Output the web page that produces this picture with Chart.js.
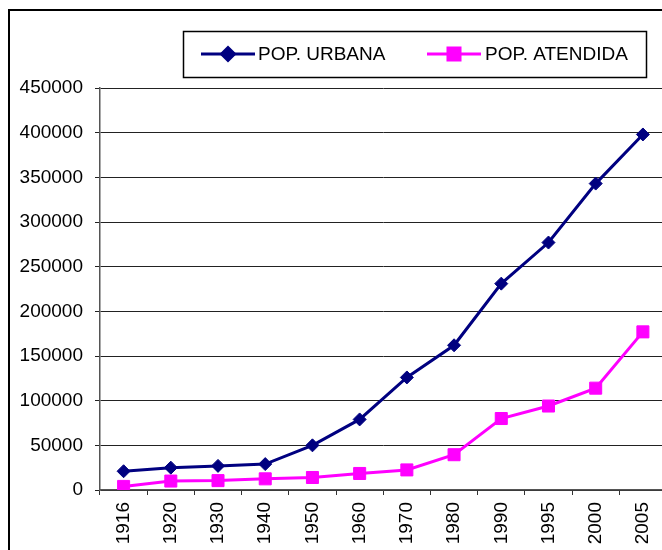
<!DOCTYPE html>
<html>
<head>
<meta charset="utf-8">
<script src="https://cdn.jsdelivr.net/npm/chart.js@4/dist/chart.umd.min.js"></script>
<style>
  html, body { margin: 0; padding: 0; background: #fff; overflow: hidden; }
  #wrap { position: relative; width: 662px; height: 550px; overflow: hidden; }
  #frame { position: absolute; left: 8px; top: 9px; width: 720px; height: 620px; border: 2px solid #000; box-sizing: border-box; }
  canvas { position: absolute; left: 0; top: 0; }
</style>
</head>
<body>
<div id="wrap">
  <div id="frame"></div>
  <canvas id="c" width="676" height="550"></canvas>
</div>
<script>
const categories = ['1916','1920','1930','1940','1950','1960','1970','1980','1990','1995','2000','2005'];
const popUrbana   = [21000, 25000, 27000, 29000, 50000, 79000, 126000, 162000, 231000, 277000, 343000, 398000];
const popAtendida = [4000, 10000, 10500, 12500, 14000, 18500, 22500, 39500, 80000, 94000, 114000, 177000];
const seriesNames = ['POP. URBANA', 'POP. ATENDIDA'];
const yTicks = [0, 50000, 100000, 150000, 200000, 250000, 300000, 350000, 400000, 450000];

const FONT = "'Liberation Sans', Arial, sans-serif";

const legendBox = {
  id: 'legendBox',
  afterDraw(chart) {
    const ctx = chart.ctx;
    ctx.save();
    ctx.strokeStyle = '#000';
    ctx.lineWidth = 1.5;
    ctx.strokeRect(183.5, 31.5, 463, 46);
    const items = [
      { x0: 201, x1: 255, tx: 258 },
      { x0: 427, x1: 481, tx: 485 }
    ];
    const cy = 54;
    chart.data.datasets.forEach((ds, i) => {
      const it = items[i];
      ctx.strokeStyle = ds.borderColor;
      ctx.lineWidth = ds.borderWidth;
      ctx.beginPath();
      ctx.moveTo(it.x0, cy);
      ctx.lineTo(it.x1, cy);
      ctx.stroke();
      Chart.helpers.drawPoint(ctx, {
        pointStyle: ds.pointStyle,
        radius: ds.pointRadius,
        borderWidth: ds.pointBorderWidth,
        rotation: 0
      }, (it.x0 + it.x1) / 2, cy);
      ctx.fillStyle = ds.pointBackgroundColor;
      ctx.strokeStyle = ds.pointBorderColor;
      ctx.lineWidth = ds.pointBorderWidth;
      ctx.fill();
      ctx.stroke();
      ctx.fillStyle = '#000';
      ctx.font = '19px ' + FONT;
      ctx.textBaseline = 'middle';
      ctx.textAlign = 'left';
      ctx.fillText(ds.label, it.tx, cy + 1);
    });
    ctx.restore();
  }
};

new Chart(document.getElementById('c'), {
  type: 'line',
  data: {
    labels: categories,
    datasets: [
      {
        label: seriesNames[0],
        data: popUrbana,
        borderColor: '#000080',
        backgroundColor: '#000080',
        borderWidth: 3,
        pointStyle: 'rectRot',
        pointRadius: 6.5,
        pointBackgroundColor: '#000080',
        pointBorderColor: '#000080',
        pointBorderWidth: 1,
        tension: 0
      },
      {
        label: seriesNames[1],
        data: popAtendida,
        borderColor: '#FF00FF',
        backgroundColor: '#FF00FF',
        borderWidth: 3,
        pointStyle: 'rect',
        pointRadius: 8.5,
        pointBackgroundColor: '#FF00FF',
        pointBorderColor: '#FF00FF',
        pointBorderWidth: 1,
        tension: 0
      }
    ]
  },
  options: {
    responsive: false,
    animation: false,
    layout: { padding: { top: 88, right: 5, left: 0, bottom: 0 } },
    plugins: {
      legend: { display: false },
      tooltip: { enabled: false }
    },
    scales: {
      x: {
        type: 'category',
        offset: true,
        afterFit(s) { s.height = 60; },
        grid: { offset: true, drawOnChartArea: false, drawTicks: true, tickLength: 5, color: '#333', lineWidth: 1 },
        border: { display: true, color: '#555', width: 1.5 },
        ticks: {
          color: '#000',
          font: { family: FONT, size: 19 },
          minRotation: 90,
          maxRotation: 90,
          padding: 7,
          autoSkip: false
        }
      },
      y: {
        min: 0,
        max: 450000,
        afterFit(s) { s.width = 100; },
        afterBuildTicks(s) { s.ticks = yTicks.map(v => ({ value: v })); },
        grid: { color: '#222', lineWidth: 1, drawTicks: true, tickLength: 5 },
        border: { display: true, color: '#555', width: 1.5 },
        ticks: {
          color: '#000',
          font: { family: FONT, size: 19 },
          padding: 12,
          callback: v => String(v)
        }
      }
    }
  },
  plugins: [legendBox]
});
</script>
</body>
</html>
